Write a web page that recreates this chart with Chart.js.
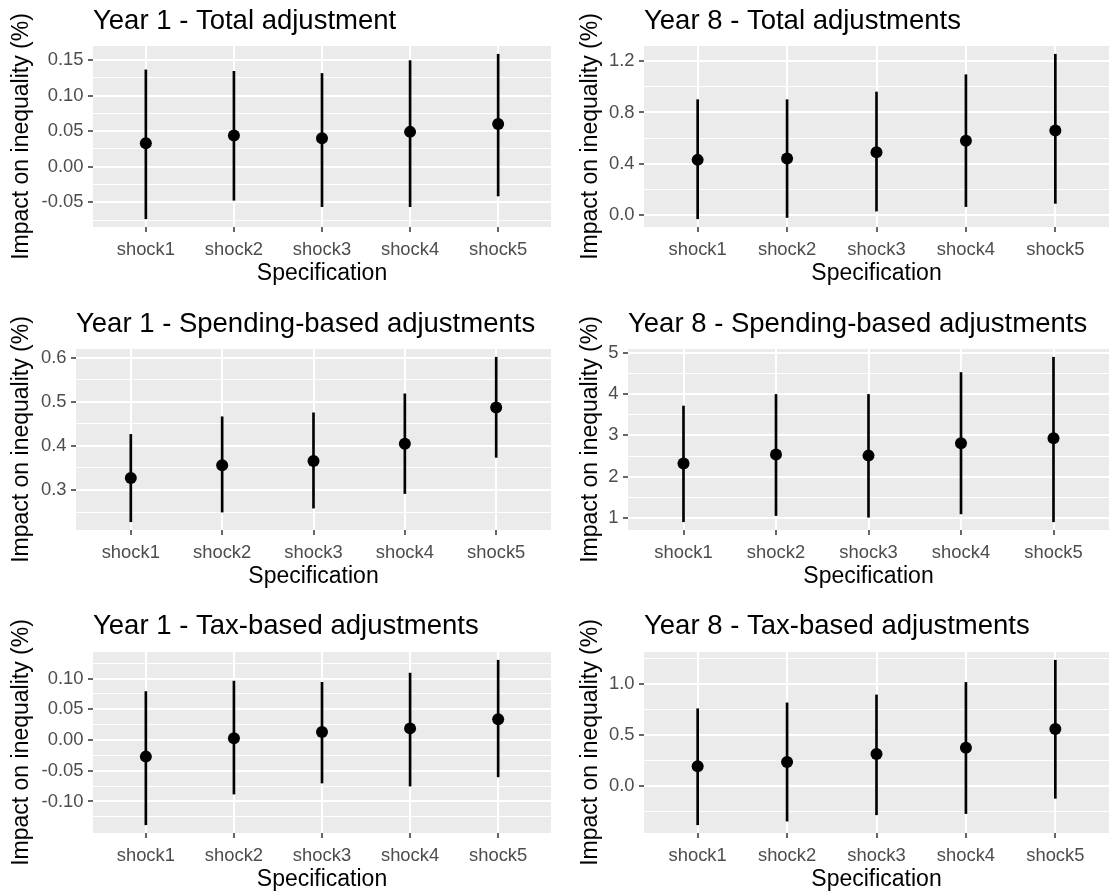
<!DOCTYPE html>
<html>
<head>
<meta charset="utf-8">
<script src="https://cdn.jsdelivr.net/npm/chart.js"></script>
<style>
  html, body { margin: 0; padding: 0; background: #fff; overflow: hidden; }
  .cell { position: absolute; }
</style>
</head>
<body>
<div class="cell"><canvas id="p1"></canvas></div>
<div class="cell"><canvas id="p2"></canvas></div>
<div class="cell"><canvas id="p3"></canvas></div>
<div class="cell"><canvas id="p4"></canvas></div>
<div class="cell"><canvas id="p5"></canvas></div>
<div class="cell"><canvas id="p6"></canvas></div>
<script>
// categories on the x axis (shared by all panels)
const categories = ['shock1', 'shock2', 'shock3', 'shock4', 'shock5'];

// Year 1 - Total adjustment
const y1TotalEst = [0.033, 0.044, 0.040, 0.049, 0.060];
const y1TotalLow = [-0.073, -0.047, -0.056, -0.056, -0.041];
const y1TotalHigh = [0.136, 0.134, 0.131, 0.149, 0.158];
const y1TotalTicks = [-0.05, 0, 0.05, 0.10, 0.15];
const y1TotalTickLabels = ['-0.05', '0.00', '0.05', '0.10', '0.15'];

// Year 8 - Total adjustments
const y8TotalEst = [0.43, 0.44, 0.49, 0.58, 0.66];
const y8TotalLow = [-0.03, -0.02, 0.03, 0.065, 0.09];
const y8TotalHigh = [0.90, 0.90, 0.96, 1.095, 1.255];
const y8TotalTicks = [0, 0.4, 0.8, 1.2];
const y8TotalTickLabels = ['0.0', '0.4', '0.8', '1.2'];

// Year 1 - Spending-based adjustments
const y1SpendEst = [0.327, 0.356, 0.366, 0.405, 0.487];
const y1SpendLow = [0.228, 0.250, 0.259, 0.292, 0.374];
const y1SpendHigh = [0.426, 0.466, 0.475, 0.518, 0.601];
const y1SpendTicks = [0.3, 0.4, 0.5, 0.6];
const y1SpendTickLabels = ['0.3', '0.4', '0.5', '0.6'];

// Year 8 - Spending-based adjustments
const y8SpendEst = [2.32, 2.54, 2.51, 2.81, 2.93];
const y8SpendLow = [0.91, 1.06, 1.02, 1.10, 0.91];
const y8SpendHigh = [3.71, 3.99, 3.99, 4.52, 4.89];
const y8SpendTicks = [1, 2, 3, 4, 5];
const y8SpendTickLabels = ['1', '2', '3', '4', '5'];

// Year 1 - Tax-based adjustments
const y1TaxEst = [-0.027, 0.003, 0.013, 0.019, 0.034];
const y1TaxLow = [-0.138, -0.088, -0.070, -0.075, -0.060];
const y1TaxHigh = [0.079, 0.096, 0.094, 0.109, 0.130];
const y1TaxTicks = [-0.10, -0.05, 0, 0.05, 0.10];
const y1TaxTickLabels = ['-0.10', '-0.05', '0.00', '0.05', '0.10'];

// Year 8 - Tax-based adjustments
const y8TaxEst = [0.195, 0.237, 0.315, 0.377, 0.562];
const y8TaxLow = [-0.38, -0.344, -0.282, -0.27, -0.12];
const y8TaxHigh = [0.76, 0.818, 0.896, 1.019, 1.237];
const y8TaxTicks = [0, 0.5, 1.0];
const y8TaxTickLabels = ['0.0', '0.5', '1.0'];

const FONT = '"Liberation Sans", Arial, sans-serif';

// grey panel background like ggplot
const panelBg = {
  id: 'panelBg',
  beforeDraw(chart) {
    const { ctx, chartArea: a } = chart;
    ctx.save();
    ctx.fillStyle = '#EBEBEB';
    ctx.fillRect(a.left, a.top, a.right - a.left, a.bottom - a.top);
    ctx.restore();
  }
};

function drawPanel(id, p) {
  const canvas = document.getElementById(id);
  const box = canvas.parentNode;
  box.style.left = p.x + 'px';
  box.style.top = p.y + 'px';
  canvas.width = p.w;
  canvas.height = p.h;

  // ggplot style 5% expansion
  const lo = Math.min(...p.low), hi = Math.max(...p.high);
  const pad = (hi - lo) * 0.05;
  const yMin = lo - pad, yMax = hi + pad;

  // minor breaks halfway between the major ones
  const step = p.ticks[1] - p.ticks[0];
  const yTicks = p.ticks.map((v, i) => ({ value: v, label: p.labels[i], minor: false }));
  for (let v = p.ticks[0] - step / 2; v <= yMax; v += step) {
    if (v >= yMin) yTicks.push({ value: v, label: '', minor: true });
  }
  yTicks.sort((a, b) => a.value - b.value);

  new Chart(canvas, {
    type: 'bar',
    data: {
      datasets: [
        {
          type: 'scatter',
          data: categories.map((c, i) => ({ x: i + 1, y: p.est[i] })),
          backgroundColor: '#000',
          borderColor: '#000',
          borderWidth: 0,
          pointRadius: 6,
          pointHoverRadius: 6
        },
        {
          type: 'bar',
          data: categories.map((c, i) => ({ x: i + 1, y: [p.low[i], p.high[i]] })),
          backgroundColor: '#000',
          borderWidth: 0,
          barThickness: 2
        }
      ]
    },
    options: {
      responsive: false,
      animation: false,
      events: [],
      layout: { padding: { left: 0, right: p.padRight, top: 0, bottom: 0 } },
      plugins: {
        legend: { display: false },
        tooltip: { enabled: false },
        title: {
          display: true,
          text: p.title,
          align: 'start',
          fullSize: false,
          color: '#000',
          font: { family: FONT, size: 27.5, weight: 'normal', lineHeight: 1.2 },
          padding: { top: p.titleTop, bottom: 13 - p.titleTop }
        }
      },
      scales: {
        x: {
          type: 'linear',
          min: 0.4,
          max: 5.6,
          offset: false,
          afterBuildTicks: s => { s.ticks = categories.map((c, i) => ({ value: i + 1 })); },
          afterFit: s => { s.height = 62; },
          ticks: {
            callback: v => categories[v - 1],
            color: '#4D4D4D',
            font: { family: FONT, size: 18.4 },
            padding: 6.5,
            maxRotation: 0,
            autoSkip: false
          },
          grid: { color: '#fff', lineWidth: 2, offset: false, tickLength: 5, tickColor: '#333', tickWidth: 1.5 },
          border: { display: false },
          title: {
            display: true,
            text: 'Specification',
            color: '#000',
            font: { family: FONT, size: 23, lineHeight: 1.2 },
            padding: { top: 0, bottom: 1.2 }
          }
        },
        y: {
          min: yMin,
          max: yMax,
          afterBuildTicks: s => { s.ticks = yTicks.map(t => ({ value: t.value, minor: t.minor })); },
          afterFit: s => { s.width = p.axisW; },
          ticks: {
            callback: (v, i) => yTicks[i].label,
            color: '#4D4D4D',
            font: { family: FONT, size: 18.4 },
            padding: 4.5,
            autoSkip: false
          },
          grid: {
            color: '#fff',
            lineWidth: c => (c.tick && c.tick.minor ? 1 : 2),
            tickColor: c => (c.tick && c.tick.minor ? 'rgba(0,0,0,0)' : '#333'),
            tickLength: 5,
            tickWidth: 1.5
          },
          border: { display: false },
          title: {
            display: true,
            text: 'Impact on inequality (%)',
            color: '#000',
            font: { family: FONT, size: 23, lineHeight: 1.2 },
            padding: { top: p.yTitlePad, bottom: 0 }
          }
        }
      }
    },
    plugins: [panelBg]
  });
}

drawPanel('p1', { title: 'Year 1 - Total adjustment', est: y1TotalEst, low: y1TotalLow, high: y1TotalHigh,
  ticks: y1TotalTicks, labels: y1TotalTickLabels,
  x: 0, y: 0, w: 557, h: 289, axisW: 93, padRight: 3, titleTop: 4.7, yTitlePad: 7.9 });
drawPanel('p2', { title: 'Year 8 - Total adjustments', est: y8TotalEst, low: y8TotalLow, high: y8TotalHigh,
  ticks: y8TotalTicks, labels: y8TotalTickLabels,
  x: 560, y: 0, w: 555, h: 289, axisW: 84, padRight: 0, titleTop: 4.7, yTitlePad: 16.7 });
drawPanel('p3', { title: 'Year 1 - Spending-based adjustments', est: y1SpendEst, low: y1SpendLow, high: y1SpendHigh,
  ticks: y1SpendTicks, labels: y1SpendTickLabels,
  x: 0, y: 303, w: 557, h: 289, axisW: 76, padRight: 3, titleTop: 5, yTitlePad: 7.9 });
drawPanel('p4', { title: 'Year 8 - Spending-based adjustments', est: y8SpendEst, low: y8SpendLow, high: y8SpendHigh,
  ticks: y8SpendTicks, labels: y8SpendTickLabels,
  x: 560, y: 303, w: 555, h: 289, axisW: 68, padRight: 0, titleTop: 5, yTitlePad: 16.7 });
drawPanel('p5', { title: 'Year 1 - Tax-based adjustments', est: y1TaxEst, low: y1TaxLow, high: y1TaxHigh,
  ticks: y1TaxTicks, labels: y1TaxTickLabels,
  x: 0, y: 606, w: 557, h: 289, axisW: 93, padRight: 3, titleTop: 3.5, yTitlePad: 7.9 });
drawPanel('p6', { title: 'Year 8 - Tax-based adjustments', est: y8TaxEst, low: y8TaxLow, high: y8TaxHigh,
  ticks: y8TaxTicks, labels: y8TaxTickLabels,
  x: 560, y: 606, w: 555, h: 289, axisW: 84, padRight: 0, titleTop: 3.5, yTitlePad: 16.7 });
</script>
</body>
</html>
